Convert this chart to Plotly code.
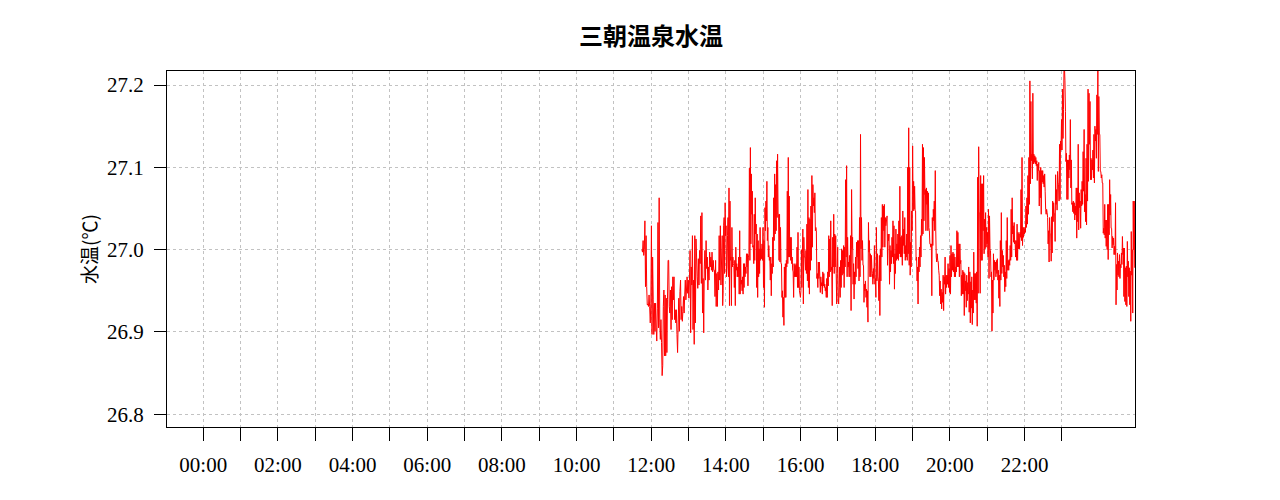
import numpy as np
import pandas as pd
import plotly.graph_objects as go

# ---------------- data ----------------
title_text = "三朝温泉水温"
y_title = "水温(℃)"
base_day = "2024-01-01"

# start / end clock times of each block of readings (HH:MM, may pass 24:00)
block_bounds = [("11:45", "13:52"), ("13:54", "16:06"), ("16:07", "18:17"),
                ("18:19", "20:31"), ("20:32", "22:41"), ("22:42", "24:57")]

temp_a = [27.000, 26.997, 27.011, 26.993, 27.000, 27.035, 26.955, 27.017, 26.955, 26.933, 26.934, 26.931, 26.945, 26.931,
          26.911, 26.935, 27.029, 26.897, 26.991, 26.939, 26.897, 26.935, 26.901, 26.935, 26.905, 26.889, 26.929, 27.033,
          26.905, 27.063, 26.911, 26.891, 26.915, 26.887, 26.847, 26.859, 26.931, 26.951, 26.871, 26.945, 26.871, 26.941,
          26.875, 26.939, 26.987, 26.987, 26.931, 26.923, 26.951, 26.903, 26.955, 26.915, 26.967, 26.939, 26.967, 26.915,
          26.927, 26.911, 26.927, 26.897, 26.875, 26.911, 26.941, 26.901, 26.949, 26.963, 26.915, 26.931, 26.913, 26.925,
          26.943, 26.923, 26.945, 26.963, 26.939, 26.951, 26.967, 26.947, 26.963, 26.941, 26.963, 26.999, 26.899, 26.979,
          26.957, 27.017, 26.903, 26.963, 26.885, 27.017, 26.911, 27.013, 26.991, 26.967, 26.953, 26.989, 26.957, 26.999,
          26.983, 27.041, 26.959, 27.045, 26.923, 26.965, 26.899, 26.979, 26.999, 26.963, 27.011, 26.977, 26.991, 26.951,
          26.979, 26.963, 26.997, 26.979, 26.991, 26.975, 26.997, 26.973, 26.987, 26.975, 26.975, 26.943, 26.987, 26.931,
          26.971, 26.931, 26.973, 26.951, 27.017, 26.963, 27.029, 26.957]

temp_b = [27.017, 26.932, 26.950, 27.029, 27.039, 26.971, 27.057, 27.017, 27.029, 26.967, 26.979, 27.017, 27.039, 26.967,
          27.075, 26.932, 27.059, 26.987, 26.991, 26.932, 27.027, 26.979, 26.991, 26.983, 26.981, 26.954, 26.987, 26.932,
          27.003, 26.975, 26.983, 26.967, 26.979, 26.967, 26.991, 26.946, 27.023, 26.946, 26.991, 26.958, 26.963, 26.950,
          26.967, 26.946, 26.983, 26.954, 26.983, 26.967, 26.979, 26.971, 26.995, 26.979, 26.995, 26.956, 26.991, 26.995,
          27.099, 26.987, 27.124, 27.007, 27.092, 27.043, 27.071, 27.003, 27.005, 26.983, 27.043, 26.987, 27.063, 27.019,
          27.031, 26.954, 27.019, 26.942, 27.011, 26.967, 27.001, 26.971, 27.027, 26.987, 27.001, 26.989, 27.007, 26.987,
          27.027, 26.954, 27.011, 26.930, 27.051, 27.023, 27.059, 27.035, 27.083, 27.011, 27.027, 26.991, 27.005, 26.987,
          26.991, 26.963, 26.991, 26.944, 26.983, 26.971, 27.015, 26.979, 27.063, 27.011, 27.092, 27.019, 27.079, 27.023,
          27.108, 27.039, 27.116, 27.043, 27.043, 26.987, 27.043, 26.985, 27.027, 26.983, 26.983, 26.942, 26.950, 26.918,
          26.942, 26.908, 26.979, 26.942, 26.983, 26.942, 26.987, 26.979, 27.071, 26.983, 27.112, 26.991, 27.065, 26.991,
          27.015, 26.987, 27.015, 26.983, 26.991, 26.975, 26.973, 26.942, 26.983, 26.967, 26.981, 26.967, 26.983, 26.967,
          27.003, 26.954, 27.021, 26.954, 26.979, 26.950, 26.946, 26.942, 26.950, 27.000, 26.954, 26.995, 27.025, 26.934,
          27.015, 26.991]

temp_c = [26.991, 26.975, 26.999, 26.971, 27.031, 26.962, 27.073, 26.954, 27.039, 26.946, 27.037, 26.975, 27.053, 26.987,
          27.090, 27.003, 27.079, 27.053, 27.063, 27.045, 27.069, 27.023, 27.027, 27.023, 26.965, 26.971, 26.954, 26.985,
          26.965, 26.985, 26.967, 26.948, 26.967, 26.956, 26.960, 26.946, 26.973, 26.956, 26.971, 26.954, 26.958, 26.950,
          26.954, 26.942, 26.965, 26.942, 26.973, 26.956, 27.017, 26.967, 27.013, 26.973, 27.035, 26.975, 26.979, 26.932,
          27.015, 26.979, 27.043, 26.971, 27.019, 26.979, 27.017, 26.971, 26.934, 26.971, 27.003, 26.940, 26.934, 26.954,
          26.979, 26.942, 26.987, 26.954, 27.001, 26.969, 26.999, 26.971, 27.005, 26.954, 27.003, 26.979, 27.085, 26.991,
          27.102, 26.967, 27.015, 26.979, 26.985, 26.967, 26.993, 26.967, 27.017, 26.926, 27.073, 27.001, 27.015, 26.958,
          26.983, 26.940, 26.973, 26.958, 26.991, 26.967, 27.009, 26.991, 27.011, 26.977, 27.011, 26.962, 27.039, 26.967,
          27.140, 27.001, 27.039, 26.987, 27.011, 26.981, 26.981, 26.936, 26.958, 26.950, 26.962, 26.942, 26.952, 26.930,
          26.950, 26.912, 27.033, 26.997, 27.011, 26.967, 26.995, 26.967, 26.993, 26.975, 26.971, 26.958, 26.977, 26.965,
          27.005, 26.958, 26.965, 26.942, 27.027, 26.962, 26.995, 26.967, 26.962, 26.938, 26.993, 26.920, 27.001, 26.962,
          27.039, 26.991, 27.055, 27.003, 27.053, 27.023, 27.055, 27.003, 27.039, 27.029]

temp_d = [27.041, 26.981, 27.019, 27.011, 27.019, 26.958, 27.005, 26.973, 26.999, 26.983, 27.015, 26.991, 27.035, 26.983,
          27.029, 26.952, 26.995, 26.971, 27.025, 26.987, 27.007, 26.989, 27.019, 26.987, 27.035, 26.995, 27.077, 26.991,
          27.015, 26.991, 27.017, 26.981, 27.047, 27.005, 27.025, 26.995, 27.039, 26.987, 27.005, 26.991, 27.019, 26.987,
          27.100, 26.995, 27.148, 26.981, 27.100, 26.969, 27.009, 26.979, 27.047, 27.023, 27.126, 27.047, 27.083, 27.049,
          27.077, 27.047, 27.047, 26.987, 26.991, 26.962, 26.979, 26.934, 26.991, 26.973, 27.003, 26.979, 27.017, 26.991,
          27.037, 27.017, 27.128, 27.019, 27.124, 27.035, 27.112, 27.067, 27.073, 27.023, 27.075, 27.055, 27.071, 27.023,
          27.069, 27.027, 27.023, 27.007, 27.007, 27.003, 27.007, 26.944, 27.039, 27.005, 27.049, 27.035, 27.059, 27.023,
          27.096, 27.023, 26.991, 26.985, 26.995, 26.987, 26.985, 26.975, 26.969, 26.944, 26.962, 26.934, 26.952, 26.928,
          26.948, 26.936, 26.969, 26.926, 26.967, 26.958, 26.991, 26.946, 26.969, 26.954, 26.969, 26.958, 26.983, 26.954,
          26.977, 26.948, 26.993, 26.946, 27.005, 26.967, 26.995, 26.975, 26.997, 26.973, 26.995, 26.967, 26.991, 26.967,
          26.979, 26.973, 27.023, 26.979, 27.021, 26.979, 27.007, 26.967, 27.007, 26.983, 26.987, 26.944, 26.969, 26.946,
          26.975, 26.946, 26.973, 26.920, 26.971, 26.950, 26.962, 26.930, 26.969, 26.938, 26.960, 26.946, 26.979, 26.924]

temp_e = [26.973, 26.911, 26.961, 26.929, 26.967, 26.909, 26.951, 26.923, 26.997, 26.939, 26.971, 26.939, 26.971, 26.935,
          26.973, 26.907, 27.088, 26.947, 27.125, 27.045, 27.045, 26.947, 27.090, 26.987, 27.080, 26.987, 27.080, 27.023,
          27.090, 26.995, 27.037, 27.001, 27.045, 27.003, 27.027, 27.007, 27.021, 26.991, 27.049, 26.965, 27.041, 27.001,
          26.999, 26.967, 26.973, 26.901, 26.963, 26.923, 26.995, 26.963, 26.987, 26.975, 26.985, 26.967, 26.987, 26.971,
          26.989, 26.963, 26.975, 26.941, 26.969, 26.931, 27.011, 26.963, 27.045, 26.971, 26.999, 26.979, 26.993, 26.967,
          26.981, 26.949, 26.973, 26.955, 27.011, 26.965, 27.039, 26.975, 26.987, 26.975, 26.988, 26.981, 27.005, 26.987,
          27.049, 26.991, 27.063, 27.019, 27.029, 27.009, 27.033, 27.007, 27.011, 26.991, 27.011, 26.987, 27.031, 26.987,
          27.021, 27.001, 27.019, 27.001, 27.021, 27.015, 27.073, 27.011, 27.112, 27.005, 27.027, 27.015, 27.027, 27.019,
          27.025, 27.021, 27.053, 27.027, 27.063, 27.031, 27.090, 27.043, 27.112, 27.055, 27.205, 27.080, 27.180, 27.108,
          27.116, 27.086, 27.190, 27.104, 27.116, 27.106, 27.114, 27.104, 27.112, 27.102, 27.108, 27.084, 27.104, 27.096,
          27.106, 27.053, 27.096, 27.063, 27.100, 27.043, 27.096, 27.082, 27.096, 27.080, 27.090, 27.076, 27.092, 27.071,
          27.049, 27.043, 27.049, 27.045, 27.039, 27.007, 27.023, 26.985, 27.039, 27.021]

temp_f = [27.020, 26.986, 27.040, 26.996, 27.059, 27.034, 27.057, 27.044, 27.044, 27.010, 27.091, 27.055, 27.073, 27.048,
          27.095, 27.081, 27.079, 27.059, 27.128, 27.061, 27.132, 27.121, 27.158, 27.121, 27.195, 27.135, 27.170, 27.217,
          27.222, 27.205, 27.168, 27.107, 27.117, 27.061, 27.109, 27.061, 27.109, 27.087, 27.115, 27.097, 27.158, 27.075,
          27.109, 27.055, 27.057, 27.046, 27.059, 27.044, 27.057, 27.036, 27.053, 27.042, 27.075, 27.014, 27.075, 27.034,
          27.128, 27.024, 27.069, 27.051, 27.059, 27.026, 27.073, 27.053, 27.083, 27.055, 27.119, 27.071, 27.146, 27.046,
          27.067, 27.034, 27.111, 27.030, 27.128, 27.059, 27.195, 27.083, 27.190, 27.128, 27.180, 27.085, 27.111, 27.085,
          27.109, 27.097, 27.121, 27.087, 27.140, 27.081, 27.150, 27.132, 27.146, 27.111, 27.188, 27.140, 27.217, 27.095,
          27.186, 27.140, 27.140, 27.095, 27.095, 27.087, 27.091, 27.081, 27.081, 27.020, 27.026, 27.018, 27.055, 27.014,
          27.036, 27.004, 27.036, 27.000, 27.055, 26.988, 27.055, 27.018, 27.085, 27.042, 27.067, 27.026, 27.026, 27.002,
          27.016, 27.006, 27.014, 26.994, 27.004, 26.994, 27.057, 26.933, 26.982, 26.951, 26.996, 26.969, 26.986, 26.967,
          26.994, 26.965, 26.982, 26.978, 26.996, 26.982, 27.016, 26.994, 27.002, 26.943, 27.002, 26.937, 26.978, 26.933,
          26.980, 26.931, 27.010, 26.967, 26.986, 26.943, 26.978, 26.933, 26.974, 26.913, 27.022, 26.969, 27.000, 26.923,
          27.059, 27.000, 27.059, 26.978]

y_ticks = [26.8, 26.9, 27.0, 27.1, 27.2]
x_tick_hours = list(range(0, 24))
x_tick_labels = [f"{h:02d}:00" if h % 2 == 0 else "" for h in x_tick_hours]

# ---------------- build ----------------
base = pd.Timestamp(base_day)


def clock(s):
    h, m = s.split(":")
    return base + pd.Timedelta(hours=int(h), minutes=int(m))


blocks = [temp_a, temp_b, temp_c, temp_d, temp_e, temp_f]
xs, ys = [], []
for (t0, t1), vals in zip(block_bounds, blocks):
    a, b = clock(t0), clock(t1)
    times = pd.to_datetime(np.linspace(a.value, b.value, len(vals)))
    xs.extend(times)
    ys.extend(vals)

FONT = "Liberation Serif, Noto Sans CJK JP, serif"
GRID = "#c2c2c2"

fig = go.Figure()
fig.add_trace(go.Scatter(x=xs, y=ys, mode="lines",
                         line=dict(color="#ff0000", width=1, simplify=False),
                         hoverinfo="x+y", showlegend=False))

x_range = [base - pd.Timedelta(hours=0.972), base + pd.Timedelta(hours=24.958)]

fig.update_layout(
    width=1280, height=500,
    paper_bgcolor="white", plot_bgcolor="white",
    margin=dict(l=167, r=145, t=71, b=73, autoexpand=False),
    title=dict(text=title_text, x=0.5, xref="paper", xanchor="center",
               y=1 - 37 / 500, yref="container", yanchor="middle",
               font=dict(family="Noto Sans CJK JP", size=24, color="black", weight=600)),
    font=dict(family=FONT, color="black"),
    xaxis=dict(range=x_range, type="date",
               tickmode="array",
               tickvals=[base + pd.Timedelta(hours=h) for h in x_tick_hours],
               ticktext=x_tick_labels,
               ticks="outside", ticklen=13, tickcolor="black", tickwidth=1,
               tickfont=dict(family=FONT, size=21),
               ticklabelstandoff=6,
               showgrid=True, gridcolor=GRID, griddash="dot", gridwidth=1,
               showline=True, linecolor="black", linewidth=1, mirror=True,
               zeroline=False),
    yaxis=dict(range=[26.7846, 27.217],
               tickmode="array", tickvals=y_ticks,
               ticktext=[f"{v:.1f}" for v in y_ticks],
               ticks="outside", ticklen=12, tickcolor="black", tickwidth=1,
               tickfont=dict(family=FONT, size=21),
               ticklabelstandoff=6,
               showgrid=True, gridcolor=GRID, griddash="dot", gridwidth=1,
               showline=True, linecolor="black", linewidth=1, mirror=True,
               zeroline=False,
               title=dict(text=y_title, standoff=4,
                          font=dict(family="Noto Sans CJK JP", size=19))),
)

fig.write_html("out.html",
               config={"displayModeBar": False},
               post_script="document.body.style.margin='0';document.body.style.padding='0';")
